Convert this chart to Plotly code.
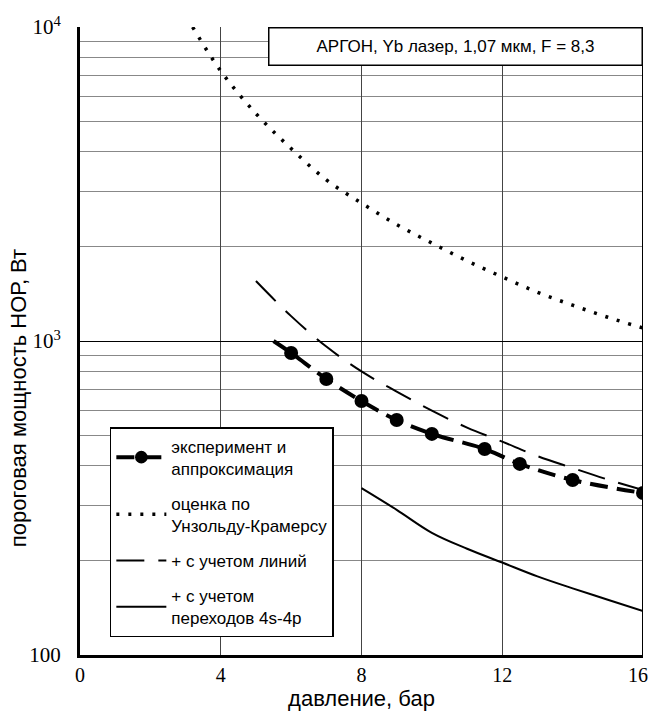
import plotly.graph_objects as go

# Experimental points and approximation (bar, W)
exp_p = [5.5, 6, 7, 8, 9, 10, 11.5, 12.5, 14, 16]
exp_w = [1000, 916, 757, 644, 560, 506, 453, 406, 361, 328]
exp_size = [0, 14, 14, 14, 14, 14, 14, 14, 14, 14]

# Unsöld-Kramers estimate
uk_p = [3.2, 4, 5, 6, 7, 8, 9, 10, 11, 12, 13, 14, 15, 16]
uk_w = [10000, 7240, 5300, 4100, 3260, 2750, 2350, 2050, 1800, 1600, 1430, 1300, 1190, 1100]

# + lines
ln_p = [5, 6, 7, 8, 9, 10, 11, 12, 13, 14, 15, 16]
ln_w = [1552, 1200, 960, 800, 690, 600, 530, 478, 430, 394, 362, 335]

# + 4s-4p transitions
tr_p = [8, 9, 10, 11, 12, 13, 14, 15, 16]
tr_w = [340, 290, 245, 218, 197, 178, 163, 150, 138]

x_ticks = [0, 4, 8, 12, 16]
x_ticktext = ["0", "4", "8", "12", "16\u00a0\u00a0"]
y_ticks = [100, 1000, 10000]
y_ticktext = ["100", "10<sup>3</sup>", "10<sup>4</sup>"]
y_minor = [m * d for d in (100, 1000) for m in range(2, 10)]

fig = go.Figure()
fig.add_trace(go.Scatter(
    x=exp_p, y=exp_w, mode="lines+markers",
    name="эксперимент и<br>аппроксимация", legendgroup="a",
    line=dict(color="black", width=4, dash="18px,9px", shape="spline"),
    marker=dict(color="black", size=exp_size, symbol="circle", opacity=1,
                line=dict(width=0, color="black")),
    opacity=1,
))
fig.add_trace(go.Scatter(
    x=uk_p, y=uk_w, mode="lines", legendgroup="b",
    name="оценка по<br>Унзольду-Крамерсу",
    line=dict(color="black", width=3.5, dash="3px,9px", shape="spline"),
))
fig.add_trace(go.Scatter(
    x=ln_p, y=ln_w, mode="lines", legendgroup="c",
    name="+ с учетом линий",
    line=dict(color="black", width=2, dash="28px,14px", shape="spline"),
))
fig.add_trace(go.Scatter(
    x=tr_p, y=tr_w, mode="lines", legendgroup="d",
    name="+ с учетом<br>переходов 4s-4p",
    line=dict(color="black", width=2, shape="spline"),
))

fig.add_shape(type="line", xref="x", yref="paper", x0=16, x1=16, y0=0, y1=1,
              line=dict(color="black", width=2))

fig.add_annotation(
    xref="paper", yref="paper", x=1, y=1, xanchor="right", yanchor="top",
    text="АРГОН, Yb лазер, 1,07 мкм, F = 8,3", showarrow=False,
    font=dict(family="Liberation Sans", size=17, color="black"),
    bgcolor="white", bordercolor="black", borderwidth=1.5,
    width=370, height=34,
)

# y-axis title (placed lower than centre, as in the original)
fig.add_annotation(
    xref="paper", yref="paper", x=-0.110, y=0.409, xanchor="center", yanchor="middle",
    text="пороговая мощность НОР, Вт", showarrow=False, textangle=-90,
    font=dict(family="Liberation Sans", size=22, color="black"),
)

fig.update_layout(
    width=649, height=715,
    margin=dict(l=80, r=6, t=27, b=60, autoexpand=False),
    plot_bgcolor="white", paper_bgcolor="white",
    font=dict(family="Liberation Sans", color="black"),
    legend=dict(
        x=0.053, y=0.363, xanchor="left", yanchor="top",
        bgcolor="white", bordercolor="black", borderwidth=1.5,
        font=dict(family="Liberation Sans", size=17, color="black"),
        itemwidth=50, tracegroupgap=10,
    ),
    xaxis=dict(
        range=[0, 16], tickvals=x_ticks, ticktext=x_ticktext, showgrid=True, gridcolor="#444",
        gridwidth=1, zeroline=False, showline=True, linecolor="black", linewidth=3,
        tickfont=dict(family="Liberation Serif", size=20, color="black"),
        title=dict(text="давление, бар", font=dict(family="Liberation Sans", size=22), standoff=2),
        ticks="", ticklabeloverflow="allow",
    ),
    yaxis=dict(
        type="log", range=[2, 4], tickvals=y_ticks, ticktext=y_ticktext,
        showgrid=True, gridcolor="black", gridwidth=1.3, zeroline=False,
        showline=True, linecolor="black", linewidth=3,
        minor=dict(tickvals=y_minor, showgrid=True, gridcolor="#888", gridwidth=1, ticks=""),
        tickfont=dict(family="Liberation Serif", size=21, color="black"),
        ticks="", ticklabelstandoff=12, ticklabeloverflow="allow",
    ),
)

fig.write_html("out.html")
